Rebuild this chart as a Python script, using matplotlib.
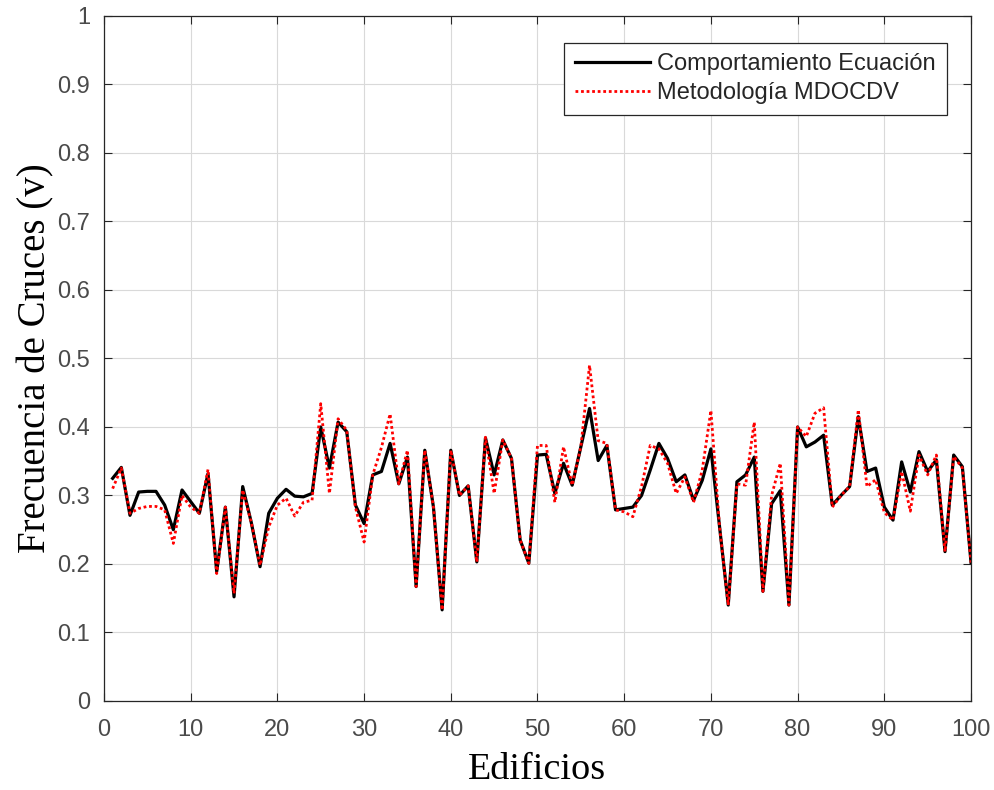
import numpy as np
import matplotlib.pyplot as plt

# Edificio index 1..100
edificios = list(range(1, 101))

comportamiento_ecuacion = [
    0.325, 0.341, 0.271, 0.305, 0.306, 0.306, 0.286, 0.250, 0.308, 0.291,
    0.274, 0.332, 0.189, 0.283, 0.152, 0.313, 0.260, 0.196, 0.274, 0.296,
    0.309, 0.299, 0.298, 0.303, 0.400, 0.340, 0.407, 0.393, 0.286, 0.259,
    0.330, 0.335, 0.376, 0.317, 0.356, 0.167, 0.366, 0.283, 0.133, 0.366,
    0.300, 0.314, 0.203, 0.384, 0.330, 0.381, 0.354, 0.235, 0.201, 0.359,
    0.360, 0.303, 0.347, 0.315, 0.371, 0.427, 0.351, 0.373, 0.279, 0.281,
    0.283, 0.300, 0.337, 0.376, 0.354, 0.320, 0.330, 0.293, 0.322, 0.368,
    0.254, 0.140, 0.320, 0.330, 0.356, 0.160, 0.288, 0.307, 0.140, 0.400,
    0.371, 0.378, 0.388, 0.286, 0.300, 0.313, 0.415, 0.335, 0.340, 0.283,
    0.264, 0.349, 0.305, 0.364, 0.335, 0.352, 0.218, 0.359, 0.342, 0.202,
]

metodologia_mdocdv = [
    0.310, 0.340, 0.274, 0.281, 0.284, 0.284, 0.279, 0.230, 0.300, 0.283,
    0.274, 0.338, 0.186, 0.283, 0.157, 0.308, 0.260, 0.198, 0.254, 0.286,
    0.296, 0.270, 0.290, 0.293, 0.434, 0.303, 0.412, 0.395, 0.283, 0.232,
    0.330, 0.370, 0.419, 0.317, 0.366, 0.167, 0.366, 0.283, 0.133, 0.366,
    0.300, 0.314, 0.203, 0.385, 0.303, 0.381, 0.354, 0.235, 0.201, 0.373,
    0.373, 0.290, 0.371, 0.315, 0.371, 0.490, 0.380, 0.376, 0.279, 0.276,
    0.269, 0.313, 0.373, 0.368, 0.347, 0.303, 0.327, 0.290, 0.337, 0.424,
    0.254, 0.140, 0.317, 0.315, 0.407, 0.160, 0.300, 0.347, 0.140, 0.400,
    0.386, 0.420, 0.428, 0.283, 0.300, 0.313, 0.425, 0.313, 0.323, 0.275,
    0.264, 0.335, 0.277, 0.359, 0.330, 0.359, 0.218, 0.357, 0.340, 0.202,
]

x_ticks = np.arange(0, 101, 10)
y_ticks = np.round(np.arange(0, 1.01, 0.1), 1)

fig = plt.figure(figsize=(9.95, 7.9), dpi=100)
ax = fig.add_axes([0.1045, 0.1127, 0.8714, 0.8671])

ax.plot(edificios, comportamiento_ecuacion, color='black', linewidth=2.3,
        label='Comportamiento Ecuación')
ax.plot(edificios, metodologia_mdocdv, color='red', linewidth=2.0,
        linestyle=(0, (1, 1)), label='Metodología MDOCDV')

ax.set_xlim(0, 100)
ax.set_ylim(0, 1)
ax.set_xticks(x_ticks)
ax.set_yticks(y_ticks)
ax.set_yticklabels([f'{v:g}' for v in y_ticks])
ax.grid(True, color='#d9d9d9', linewidth=0.8)
ax.set_axisbelow(True)

ax.tick_params(direction='in', top=True, right=True, length=6, width=0.8,
               labelsize=17, labelcolor='#4a4a4a', colors='#262626')
ax.tick_params(axis='x', pad=13)
ax.tick_params(axis='y', pad=10)
for lbl in ax.get_xticklabels() + ax.get_yticklabels():
    lbl.set_family('Liberation Sans')
for sp in ax.spines.values():
    sp.set_color('#262626')
    sp.set_linewidth(0.9)

ax.set_xlabel('Edificios', family='Liberation Serif', fontsize=27.5, labelpad=8)
ax.set_ylabel('Frecuencia de Cruces (v)', family='Liberation Serif', fontsize=28, labelpad=2)

leg = ax.legend(loc='upper right', prop={'family': 'Liberation Sans', 'size': 17},
                handlelength=3.2, fancybox=False, framealpha=1,
                edgecolor='#262626', borderpad=0.45, labelspacing=0.3,
                handletextpad=0.3, borderaxespad=0, bbox_to_anchor=(0.972, 0.961))
leg.get_frame().set_linewidth(0.9)
for t in leg.get_texts():
    t.set_color('#262626')

fig.savefig('out.png', dpi=100)
